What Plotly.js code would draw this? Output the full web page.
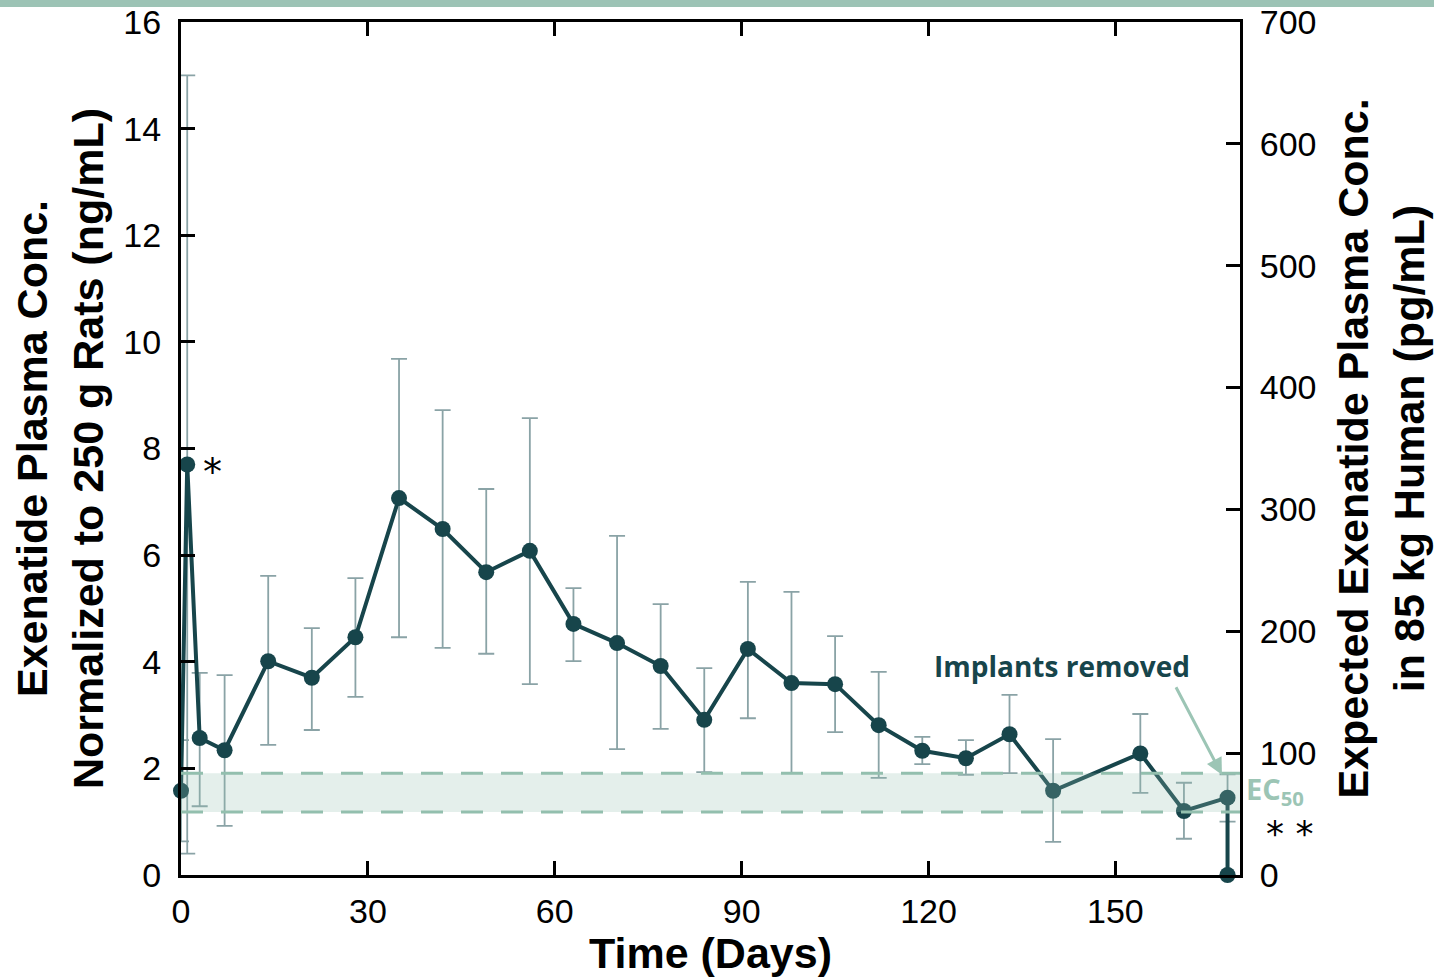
<!DOCTYPE html>
<html><head><meta charset="utf-8">
<script src="https://cdn.plot.ly/plotly-3.0.1.min.js"></script>
<style>html,body{margin:0;padding:0;background:#fff;}#topbar{position:absolute;left:0;top:0;width:1434px;height:7px;background:#9cc3b5;z-index:5}#chart{width:1434px;height:977px}</style>
</head><body>
<div id="topbar"></div>
<div id="chart"></div>
<script>
const days =   [0,    1,    3,    7,    14,   21,   28,   35,   42,   49,   56,   63,   70,   77,   84,   91,   98,   105,  112,  119,  126,  133,  140,  154,  161,  168,  168];
const conc =   [1.58, 7.70, 2.57, 2.34, 4.01, 3.70, 4.46, 7.07, 6.49, 5.68, 6.08, 4.71, 4.35, 3.92, 2.91, 4.24, 3.60, 3.58, 2.81, 2.33, 2.19, 2.64, 1.58, 2.28, 1.20, 1.45, 0.00];
const errUp =  [0.95, 7.30, 1.22, 1.41, 1.60, 0.93, 1.11, 2.61, 2.23, 1.56, 2.49, 0.67, 2.01, 1.16, 0.97, 1.26, 1.71, 0.90, 1.00, 0.26, 0.34, 0.74, 0.97, 0.74, 0.53, 0.44, 0];
const errDn =  [0.95, 7.30, 1.28, 1.42, 1.57, 0.98, 1.12, 2.61, 2.23, 1.53, 2.50, 0.70, 1.99, 1.18, 0.98, 1.30, 1.69, 0.90, 0.99, 0.25, 0.31, 0.73, 0.96, 0.74, 0.52, 0.45, 0];
const ec50Low = 1.18, ec50High = 1.91;
const xTicks = [0, 30, 60, 90, 120, 150];
const yTicks = [0, 2, 4, 6, 8, 10, 12, 14, 16];
const y2Ticks = [0, 100, 200, 300, 400, 500, 600, 700];

const dark = '#17454b';
const band = '#93bfae';
const light = '#9cc5b5';

const trace = {
  x: days, y: conc, type: 'scatter', mode: 'lines+markers',
  line: {color: dark, width: 4},
  marker: {color: dark, size: 16},
  error_y: {type: 'data', symmetric: false, array: errUp, arrayminus: errDn,
            color: '#8aa3a6', thickness: 1.8, width: 8},
  cliponaxis: false, showlegend: false, hoverinfo: 'skip'
};
const ghost = {x: [0], y: [0], yaxis: 'y2', type: 'scatter', mode: 'markers', marker: {opacity: 0}, showlegend: false, hoverinfo: 'skip'};

const axBase = {ticks: 'inside', ticklen: 14, tickwidth: 3, tickcolor: '#000', showline: true, linewidth: 3,
                linecolor: '#000', showgrid: false, zeroline: false, tickfont: {size: 34}};

const layout = {
  width: 1434, height: 977,
  margin: {l: 181, r: 194, t: 22, b: 102},
  paper_bgcolor: '#fff', plot_bgcolor: '#fff',
  font: {family: 'Liberation Sans, Arial, sans-serif', color: '#000'},
  xaxis: Object.assign({}, axBase, {range: [0, 170], tickvals: xTicks, mirror: 'ticks', ticklabelstandoff: 4,
          title: {text: '<b>Time (Days)</b>', font: {size: 43}, standoff: 2}}),
  yaxis: Object.assign({}, axBase, {range: [0, 16], tickvals: yTicks, ticklabelstandoff: 10,
          title: {text: '<b>Exenatide Plasma Conc.<br>Normalized to 250 g Rats (ng/mL)</b>', font: {size: 43}, standoff: 7}}),
  yaxis2: Object.assign({}, axBase, {range: [0, 700], tickvals: y2Ticks, overlaying: 'y', side: 'right', ticklabelstandoff: 10,
          title: {text: '<b>Expected Exenatide Plasma Conc.<br>in 85 kg Human (pg/mL)</b>', font: {size: 43}, standoff: 23}}),
  shapes: [
    {type: 'rect', xref: 'x', yref: 'y', x0: 0, x1: 170, y0: ec50Low, y1: ec50High, fillcolor: 'rgba(147,191,174,0.25)', line: {width: 0}, layer: 'above'},
    {type: 'line', xref: 'x', yref: 'y', x0: 0, x1: 170, y0: ec50High, y1: ec50High, line: {color: band, width: 3, dash: '22px,18px'}, layer: 'above'},
    {type: 'line', xref: 'x', yref: 'y', x0: 0, x1: 170, y0: ec50Low, y1: ec50Low, line: {color: band, width: 3, dash: '22px,18px'}, layer: 'above'}
  ],
  annotations: [
    {x: 1, y: 7.7, xref: 'x', yref: 'y', text: '*', showarrow: false, xanchor: 'left', xshift: 14, yshift: -8, font: {size: 38, color: '#000', family: 'DejaVu Sans'}},
    {x: 170, y: 0.9, xref: 'x', yref: 'y', text: '* *', showarrow: false, xanchor: 'left', xshift: 24, yshift: -6, font: {size: 36, color: '#000', family: 'DejaVu Sans'}},
    {x: 141.4, y: 3.92, xref: 'x', yref: 'y', xanchor: 'center', yanchor: 'middle', text: '<b>Implants removed</b>', showarrow: false, font: {size: 28, color: dark, family: 'Open Sans'}},
    {x: 167.1, y: 1.88, xref: 'x', yref: 'y', ax: 159.6, ay: 3.55, axref: 'x', ayref: 'y', text: '', showarrow: true,
     arrowhead: 2, arrowsize: 1.1, arrowwidth: 3, arrowcolor: light, standoff: 0},
    {x: 170, y: ec50Low + (ec50High - ec50Low) / 2, xref: 'x', yref: 'y', text: '<b>EC<sub>50</sub></b>', showarrow: false, xanchor: 'left', xshift: 4, yshift: 2,
     font: {size: 29, color: light, family: 'Open Sans'}}
  ]
};
Plotly.newPlot('chart', [trace, ghost], layout, {displayModeBar: false, staticPlot: true});
</script>
</body></html>
